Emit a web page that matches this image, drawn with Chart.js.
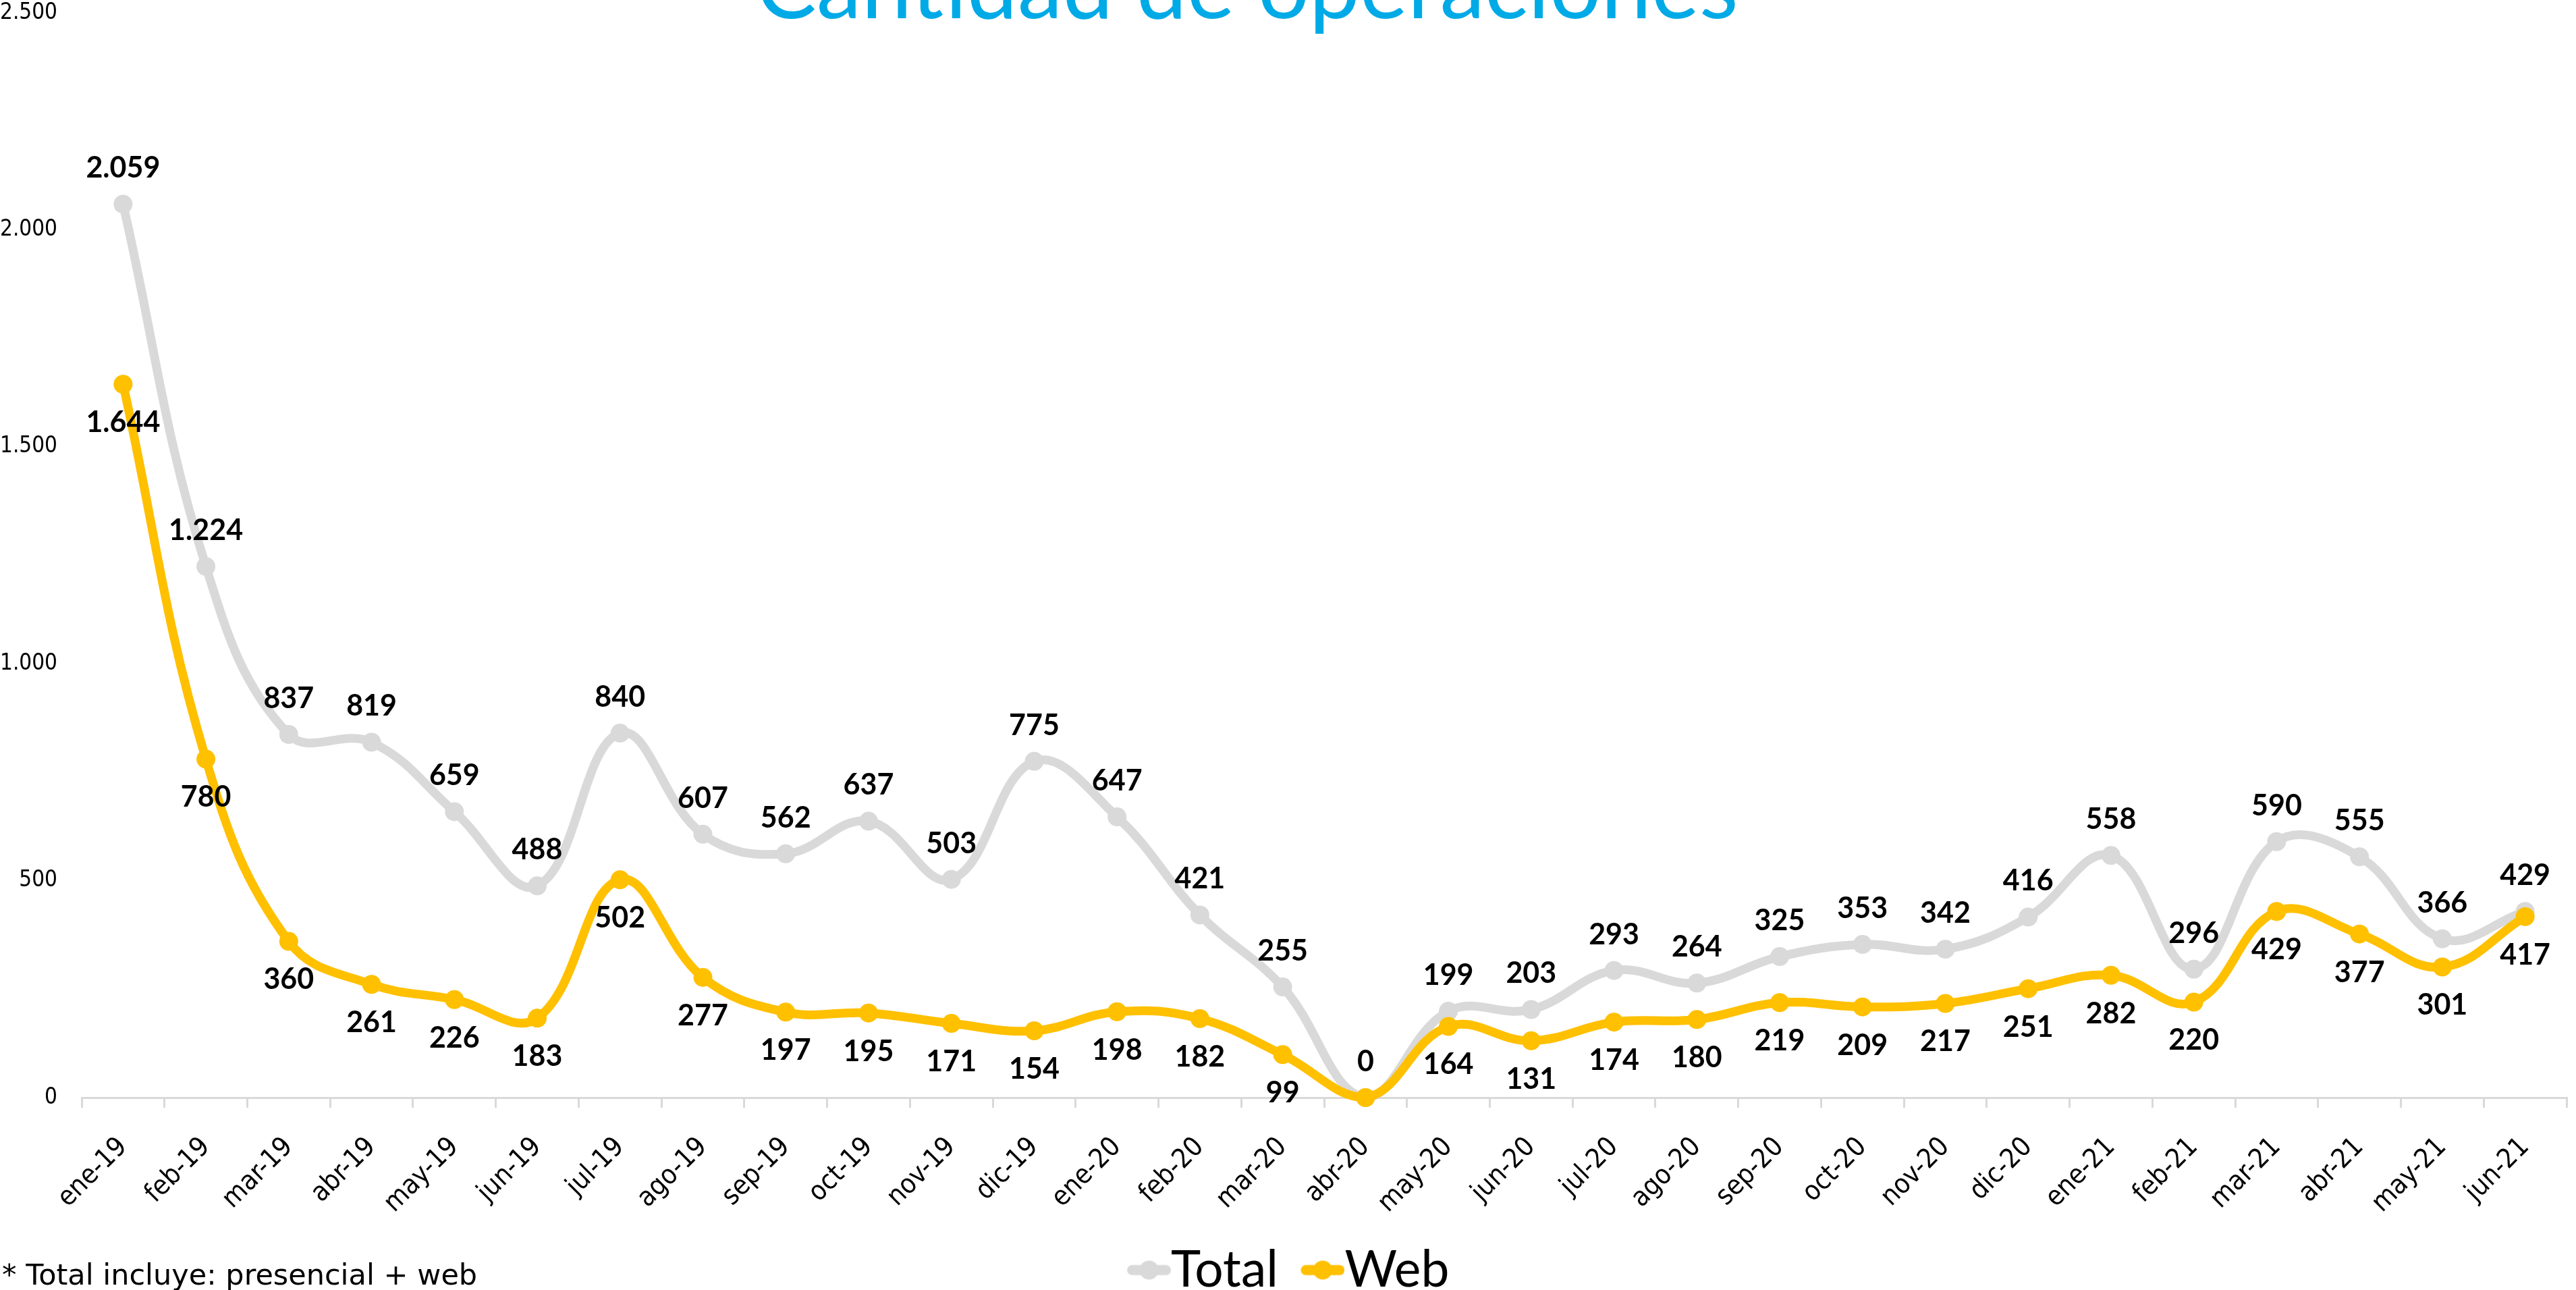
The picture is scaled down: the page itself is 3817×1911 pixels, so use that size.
<!DOCTYPE html>
<html lang="es">
<head>
<meta charset="utf-8">
<title>Cantidad de operaciones</title>
<script src="https://cdn.jsdelivr.net/npm/chart.js@4.4.1/dist/chart.umd.min.js"></script>
<style>
  html, body { margin: 0; padding: 0; background: #fff; }
  #wrap { position: relative; width: 3817px; height: 1911px; }
</style>
</head>
<body>
<div id="wrap"><canvas id="chart"></canvas></div>
<script>
const meses = ['ene-19', 'feb-19', 'mar-19', 'abr-19', 'may-19', 'jun-19', 'jul-19', 'ago-19', 'sep-19', 'oct-19', 'nov-19', 'dic-19',
               'ene-20', 'feb-20', 'mar-20', 'abr-20', 'may-20', 'jun-20', 'jul-20', 'ago-20', 'sep-20', 'oct-20', 'nov-20', 'dic-20',
               'ene-21', 'feb-21', 'mar-21', 'abr-21', 'may-21', 'jun-21'];
const total = [2059, 1224, 837, 819, 659, 488, 840, 607, 562, 637, 503, 775,
               647, 421, 255, 0, 199, 203, 293, 264, 325, 353, 342, 416,
               558, 296, 590, 555, 366, 429];
const web = [1644, 780, 360, 261, 226, 183, 502, 277, 197, 195, 171, 154,
             198, 182, 99, 0, 164, 131, 174, 180, 219, 209, 217, 251,
             282, 220, 429, 377, 301, 417];
const yTicks = [0, 500, 1000, 1500, 2000, 2500];

const GRIS = '#D9D9D9';
const AMARILLO = '#FFC000';
const EJE_FONT = '"DejaVu Sans Condensed", "DejaVu Sans", sans-serif';
const LEYENDA_PX = 75;
const CAJA = 28; // ancho de caja de la leyenda

// separador de miles con punto
const miles = v => String(v).replace(/\B(?=(\d{3})+(?!\d))/g, '.');

// marcador de la leyenda: línea con círculo, pegado al texto
function marcador(color) {
  const c = document.createElement('canvas');
  c.width = CAJA + LEYENDA_PX; c.height = 30;
  const g = c.getContext('2d');
  const x0 = c.width - 65;
  g.strokeStyle = color;
  g.lineWidth = 15;
  g.lineCap = 'round';
  g.beginPath(); g.moveTo(x0 + 7.5, 15); g.lineTo(x0 + 57.5, 15); g.stroke();
  g.fillStyle = color;
  g.beginPath(); g.arc(x0 + 32.5, 15, 14, 0, Math.PI * 2); g.fill();
  return c;
}
const marcas = [marcador(GRIS), marcador(AMARILLO)];

const etiquetas = {
  id: 'etiquetas',
  afterDatasetsDraw(chart) {
    const ctx = chart.ctx;
    ctx.save();
    ctx.font = 'bold 43px Lato';
    ctx.fillStyle = '#000';
    ctx.textAlign = 'center';
    ctx.textBaseline = 'middle';
    chart.data.datasets.forEach((ds, i) => {
      const arriba = i === 0;
      chart.getDatasetMeta(i).data.forEach((pt, j) => {
        const v = ds.data[j];
        if (!arriba && v === 0) return;
        ctx.fillText(miles(v), pt.x, arriba ? pt.y - 53 : pt.y + 57);
      });
    });
    ctx.restore();
  },
  afterDraw(chart) {
    const ctx = chart.ctx;
    ctx.save();
    ctx.font = '134px Lato';
    ctx.fillStyle = '#00AAE6';
    ctx.textAlign = 'center';
    ctx.textBaseline = 'alphabetic';
    ctx.fillText('Cantidad de operaciones', 1848, 27);
    ctx.font = '43px "DejaVu Sans"';
    ctx.fillStyle = '#000';
    ctx.textAlign = 'left';
    ctx.fillText('* Total incluye: presencial + web', 3, 1903);
    ctx.restore();
  }
};

new Chart(document.getElementById('chart'), {
  type: 'line',
  data: {
    labels: meses,
    datasets: [{
      label: 'Total',
      data: total,
      borderColor: GRIS,
      backgroundColor: GRIS,
      pointBackgroundColor: GRIS,
      borderWidth: 13,
      pointRadius: 14,
      pointBorderWidth: 0,
      tension: 0.4,
      clip: false,
      order: 1
    }, {
      label: 'Web',
      data: web,
      borderColor: AMARILLO,
      backgroundColor: AMARILLO,
      pointBackgroundColor: AMARILLO,
      borderWidth: 13,
      pointRadius: 14,
      pointBorderWidth: 0,
      tension: 0.4,
      clip: false,
      order: 0
    }]
  },
  options: {
    responsive: true,
    maintainAspectRatio: false,
    devicePixelRatio: 1,
    animation: false,
    layout: { padding: { top: 0, left: 0, right: 0, bottom: -18 } },
    scales: {
      x: {
        offset: true,
        grid: { offset: true, drawOnChartArea: false, color: GRIS, lineWidth: 3, tickLength: 15 },
        border: { color: GRIS, width: 3 },
        ticks: {
          autoSkip: false,
          minRotation: 45,
          maxRotation: 45,
          padding: 35,
          color: '#000',
          font: { family: EJE_FONT, size: 40 }
        },
        afterFit: s => {
          s.height = 185;
          s.paddingLeft = 0;
          s.paddingRight = 0;
        }
      },
      y: {
        min: 0,
        max: 2500,
        afterBuildTicks: s => { s.ticks = yTicks.map(v => ({ value: v })); },
        grid: { display: false, drawTicks: false },
        border: { display: false },
        ticks: {
          padding: 36,
          color: '#000',
          font: { family: EJE_FONT, size: 33 },
          callback: v => miles(v)
        },
        afterFit: s => {
          s.width = 121;
          s.paddingTop = 19;
          s.paddingBottom = 0;
        }
      }
    },
    plugins: {
      title: { display: false },
      tooltip: { enabled: false },
      legend: {
        position: 'bottom',
        labels: {
          color: '#000',
          font: { family: 'Lato', size: LEYENDA_PX },
          usePointStyle: true,
          pointStyleWidth: CAJA,
          boxHeight: 30,
          padding: 33,
          sort: (a, b) => a.datasetIndex - b.datasetIndex,
          generateLabels(chart) {
            const items = Chart.defaults.plugins.legend.labels.generateLabels(chart);
            items.forEach(it => { it.pointStyle = marcas[it.datasetIndex]; });
            return items;
          }
        }
      }
    }
  },
  plugins: [etiquetas]
});
</script>
</body>
</html>
